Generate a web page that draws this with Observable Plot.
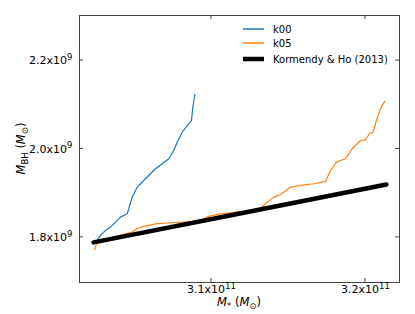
<!DOCTYPE html>
<html>
<head>
<meta charset="utf-8">
<script src="https://cdn.jsdelivr.net/npm/d3@7"></script>
<script src="https://cdn.jsdelivr.net/npm/@observablehq/plot@0.6"></script>
<style>
  html, body { margin: 0; padding: 0; background: white; }
  #chart { width: 415px; height: 314px; }
</style>
</head>
<body>
<div id="chart"></div>
<script>
// ---- data (M* in Msun, M_BH in Msun) ----
const k00Mstar = [3.0258e11, 3.0279e11, 3.0312e11, 3.0344e11, 3.0377e11, 3.0409e11, 3.0453e11, 3.0463e11, 3.0485e11, 3.0518e11, 3.0560e11, 3.0604e11, 3.0636e11, 3.0680e11, 3.0723e11, 3.0755e11, 3.0777e11, 3.0810e11, 3.0842e11, 3.0870e11, 3.0879e11, 3.0892e11];
const k00Mbh   = [1.7932e9, 1.8045e9, 1.8158e9, 1.8233e9, 1.8346e9, 1.8459e9, 1.8536e9, 1.8649e9, 1.8911e9, 1.9137e9, 1.9288e9, 1.9440e9, 1.9553e9, 1.9666e9, 1.9779e9, 1.9966e9, 2.0154e9, 2.0380e9, 2.0531e9, 2.0644e9, 2.0945e9, 2.1232e9];

const k05Mstar = [3.0242e11, 3.0258e11, 3.0279e11, 3.0323e11, 3.0396e11, 3.0485e11, 3.0518e11, 3.0560e11, 3.0636e11, 3.0734e11, 3.0864e11, 3.0929e11, 3.0982e11, 3.1058e11, 3.1167e11, 3.1232e11, 3.1318e11, 3.1362e11, 3.1405e11, 3.1448e11, 3.1513e11, 3.1578e11, 3.1664e11, 3.1740e11, 3.1773e11, 3.1812e11, 3.1838e11, 3.1870e11, 3.1914e11, 3.1968e11, 3.2000e11, 3.2028e11, 3.2050e11, 3.2071e11, 3.2097e11, 3.2125e11];
const k05Mbh   = [1.7729e9, 1.7894e9, 1.7948e9, 1.7971e9, 1.8034e9, 1.8120e9, 1.8197e9, 1.8249e9, 1.8305e9, 1.8332e9, 1.8350e9, 1.8384e9, 1.8475e9, 1.8531e9, 1.8572e9, 1.8588e9, 1.8649e9, 1.8798e9, 1.8911e9, 1.8972e9, 1.9137e9, 1.9175e9, 1.9214e9, 1.9266e9, 1.9514e9, 1.9702e9, 1.9740e9, 1.9779e9, 2.0005e9, 2.0192e9, 2.0208e9, 2.0357e9, 2.0380e9, 2.0644e9, 2.0908e9, 2.1080e9];

const khMstar = [3.0234e11, 3.1185e11, 3.2136e11];
const khMbh   = [1.7887e9, 1.8540e9, 1.9198e9];

const seriesNames = ["k00", "k05", "Kormendy & Ho (2013)"];
const seriesColors = ["#1f77b4", "#ff7f0e", "#000000"];

const xTicks = [3.1e11, 3.2e11];
const xTickLabels = ["3.1x10^11", "3.2x10^11"];
const yTicks = [1.8e9, 2.0e9, 2.2e9];
const yTickLabels = ["1.8x10^9", "2.0x10^9", "2.2x10^9"];

const xDomain = [3.0143e11, 3.2221e11];
const yDomain = [1.698e9, 2.302e9];

// ---- build tables ----
const k00 = k00Mstar.map((x, i) => ({x, y: k00Mbh[i]}));
const k05 = k05Mstar.map((x, i) => ({x, y: k05Mbh[i]}));
const kh = khMstar.map((x, i) => ({x, y: khMbh[i]}));

const M = {left: 79, right: 16, top: 15, bottom: 32};

const chart = Plot.plot({
  width: 415,
  height: 314,
  marginLeft: M.left,
  marginRight: M.right,
  marginTop: M.top,
  marginBottom: M.bottom,
  style: {fontFamily: "DejaVu Sans", fontSize: "11px", color: "black", background: "white"},
  x: {domain: xDomain},
  y: {domain: yDomain},
  marks: [
    Plot.line(k00, {x: "x", y: "y", stroke: seriesColors[0], strokeWidth: 1.2}),
    Plot.line(k05, {x: "x", y: "y", stroke: seriesColors[1], strokeWidth: 1.2}),
    Plot.line(kh, {x: "x", y: "y", stroke: seriesColors[2], strokeWidth: 4.5}),
    Plot.frame({stroke: "#444", strokeWidth: 1}),
    Plot.axisX(xTicks, {tickSize: 0, tickPadding: 3, label: null,
      tickFormat: d => xTickLabels[xTicks.indexOf(d)], fontSize: 11}),
    Plot.axisY(yTicks, {tickSize: 0, tickPadding: 7, label: null,
      tickFormat: d => yTickLabels[yTicks.findIndex(t => Math.abs(t - d) < 1)], fontSize: 11})
  ]
});

document.getElementById("chart").appendChild(chart);

const svg = d3.select(chart);
const sx = chart.scale("x"), sy = chart.scale("y");
const pLeft = M.left, pRight = 415 - M.right, pTop = M.top, pBottom = 314 - M.bottom;

// superscripts in tick labels
svg.selectAll("g[aria-label='x-axis tick label'] text, g[aria-label='y-axis tick label'] text").each(function() {
  const t = d3.select(this);
  const s = t.text();
  if (!s.includes("^")) return;
  const [base, exp] = s.split("^");
  t.text(null);
  t.append("tspan").text(base);
  t.append("tspan").attr("dy", "-0.5em").attr("font-size", "8.5px").text(exp);
});

// inward ticks on all four sides
const tickG = svg.append("g").attr("stroke", "#444").attr("stroke-width", 1);
xTicks.forEach(v => {
  const px = sx.apply(v);
  tickG.append("line").attr("x1", px).attr("x2", px).attr("y1", pBottom).attr("y2", pBottom - 4);
  tickG.append("line").attr("x1", px).attr("x2", px).attr("y1", pTop).attr("y2", pTop + 4);
});
yTicks.forEach(v => {
  const py = sy.apply(v);
  tickG.append("line").attr("x1", pLeft).attr("x2", pLeft + 4).attr("y1", py).attr("y2", py);
  tickG.append("line").attr("x1", pRight).attr("x2", pRight - 4).attr("y1", py).attr("y2", py);
});

// axis labels with math-like formatting
function mathLabel(g, parts) {
  const t = g.append("text").attr("text-anchor", "middle").attr("font-family", "DejaVu Sans").attr("font-size", 11.5).attr("fill", "black");
  parts.forEach(p => {
    const ts = t.append("tspan").text(p.t);
    if (p.i) ts.attr("font-style", "italic");
    if (p.sub) ts.attr("font-size", p.sub > 0 ? 8.5 : 11.5).attr("dy", p.sub);
  });
  return t;
}
const xl = svg.append("g").attr("transform", `translate(${(pLeft + pRight) / 2},306)`);
mathLabel(xl, [{t: "M", i: true}, {t: "*", sub: 3}, {t: " (", sub: -3}, {t: "M", i: true}, {t: "⊙", sub: 3}, {t: ")", sub: -3}]);
const yl = svg.append("g").attr("transform", `translate(25,${(pTop + pBottom) / 2}) rotate(-90)`);
mathLabel(yl, [{t: "M", i: true}, {t: "BH", sub: 3}, {t: " (", sub: -3}, {t: "M", i: true}, {t: "⊙", sub: 3}, {t: ")", sub: -3}]);

// legend
const leg = svg.append("g");
const legY = [29, 43, 59];
const legW = [1.5, 1.5, 4.5];
seriesNames.forEach((name, i) => {
  leg.append("line").attr("x1", 243).attr("x2", 264).attr("y1", legY[i]).attr("y2", legY[i])
    .attr("stroke", seriesColors[i]).attr("stroke-width", legW[i]);
  leg.append("text").attr("x", 273).attr("y", legY[i]).attr("dy", "0.35em")
    .attr("text-anchor", "start")
    .attr("font-family", "DejaVu Sans").attr("font-size", 10).attr("fill", "black").text(name);
});
</script>
</body>
</html>
